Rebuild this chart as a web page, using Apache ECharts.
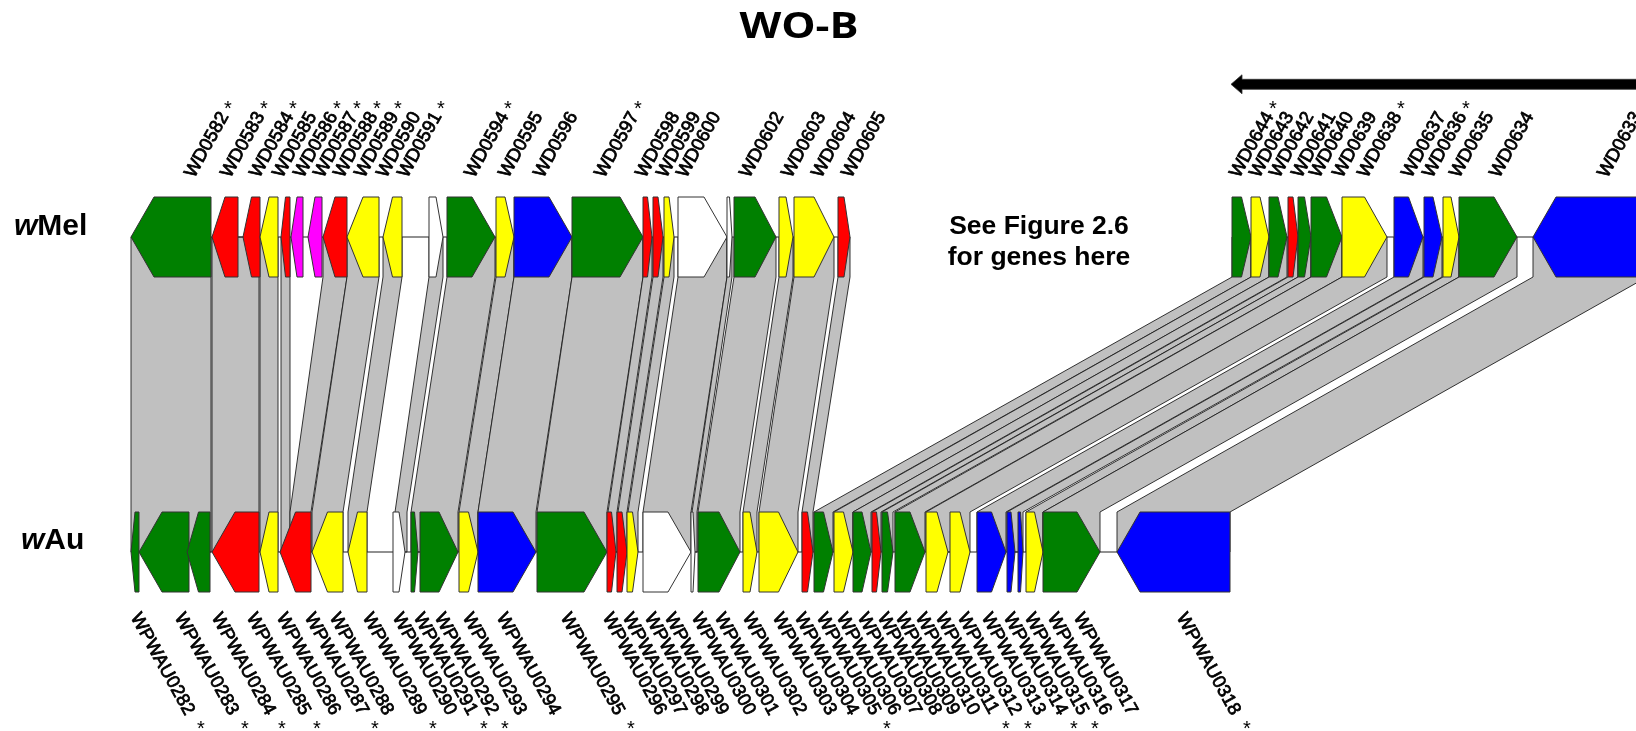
<!DOCTYPE html>
<html><head><meta charset="utf-8">
<script src="https://cdn.jsdelivr.net/npm/echarts@6/dist/echarts.min.js"></script>
<style>html,body{margin:0;padding:0;background:#fff}#c{width:1636px;height:731px}</style>
</head><body><div id="c"></div>
<script>
// ---------- DATA (diagram coordinates along the genome axis) ----------
const geneColors = {G:'#008000', R:'#ff0000', Y:'#ffff00', B:'#0000ff', M:'#ff00ff', W:'#ffffff'};

// [start, end, strand, colour]
const melGenes = [
  [131,211,-1,'G'],[212,238,-1,'R'],[243,260,-1,'R'],[260,278,-1,'Y'],[281,290,-1,'R'],
  [291,303,-1,'M'],[308,322,-1,'M'],[323,347,-1,'R'],[347,379,-1,'Y'],[383,402,-1,'Y'],
  [429,443,1,'W'],[447,495,1,'G'],[496,514,1,'Y'],[514,572,1,'B'],[572,643,1,'G'],
  [643,652,1,'R'],[653,663,1,'R'],[664,674,1,'Y'],[678,727,1,'W'],[727,732,1,'W'],
  [734,776,1,'G'],[779,793,1,'Y'],[794,834,1,'Y'],[838,850,1,'R'],
  [1232,1251,1,'G'],[1251,1269,1,'Y'],[1269,1287,1,'G'],[1288,1298,1,'R'],[1298,1311,1,'G'],
  [1311,1342,1,'G'],[1342,1387,1,'Y'],[1394,1423,1,'B'],[1424,1442,1,'B'],[1443,1459,1,'Y'],
  [1459,1517,1,'G'],[1533,1690,-1,'B']
];
const auGenes = [
  [131,139,-1,'G'],[139,189,-1,'G'],[187,210,-1,'G'],[212,259,-1,'R'],[260,278,-1,'Y'],
  [280,311,-1,'R'],[312,343,-1,'Y'],[348,367,-1,'Y'],[393,405,1,'W'],[411,418,1,'G'],
  [420,458,1,'G'],[459,478,1,'Y'],[478,536,1,'B'],[537,607,1,'G'],[607,616,1,'R'],
  [617,627,1,'R'],[627,638,1,'Y'],[643,691,1,'W'],[691,695,1,'W'],[698,740,1,'G'],
  [743,757,1,'Y'],[759,798,1,'Y'],[802,813,1,'R'],[814,833,1,'G'],[834,853,1,'Y'],
  [853,871,1,'G'],[872,881,1,'R'],[882,893,1,'G'],[895,925,1,'G'],[926,948,1,'Y'],
  [950,970,1,'Y'],[977,1006,1,'B'],[1007,1015,1,'B'],[1018,1023,1,'B'],[1026,1043,1,'Y'],
  [1043,1100,1,'G'],[1117,1230,-1,'B']
];
// homology links: [wMel start, wMel end, wAu start, wAu end]
const links = [
  [131,211,131,211],[212,259,212,259],[260,278,260,278],[281,290,281,290],[323,347,290,311],
  [347,379,312,343],[383,402,348,367],[429,443,395,407],[447,495,411,458],[496,514,459,478],
  [514,572,478,536],[572,643,537,607],[643,652,608,617],[653,663,618,627],[664,674,628,638],
  [678,727,643,691],[727,732,692,697],[734,776,698,740],[779,793,743,757],[794,834,759,798],
  [838,850,802,813],
  [1232,1251,814,833],[1251,1269,834,853],[1269,1287,853,871],[1288,1298,872,881],
  [1298,1311,882,893],[1311,1342,895,925],[1342,1387,926,970],[1394,1423,977,1006],
  [1424,1442,1007,1023],[1443,1459,1026,1043],[1459,1517,1043,1100],[1533,1647,1117,1230]
];
// [label, position, starred]
const melLabels = [
  ['WD0582',185,1],['WD0583',221,1],['WD0584',250,1],['WD0585',273,0],['WD0586',294,1],
  ['WD0587',314,1],['WD0588',334,1],['WD0589',355,1],['WD0590',377,0],['WD0591',398,1],
  ['WD0594',465,1],['WD0595',499,0],['WD0596',534,0],['WD0597',595,1],['WD0598',636,0],
  ['WD0599',657,0],['WD0600',677,0],['WD0602',740,0],['WD0603',782,0],['WD0604',812,0],
  ['WD0605',842,0],
  ['WD0644',1230,1],['WD0643',1250,0],['WD0642',1270,0],['WD0641',1292,0],['WD0640',1310,0],
  ['WD0639',1333,0],['WD0638',1358,1],['WD0637',1402,0],['WD0636',1423,1],['WD0635',1450,0],
  ['WD0634',1490,0],['WD0633',1598,0]
];
const auLabels = [
  ['WPWAU0282',131,1],['WPWAU0283',175,1],['WPWAU0284',212,1],['WPWAU0285',247,1],
  ['WPWAU0286',277,0],['WPWAU0287',305,1],['WPWAU0288',330,0],['WPWAU0289',363,1],
  ['WPWAU0290',393,0],['WPWAU0291',414,1],['WPWAU0292',435,1],['WPWAU0293',463,0],
  ['WPWAU0294',497,0],['WPWAU0295',561,1],['WPWAU0296',603,0],['WPWAU0297',623,0],
  ['WPWAU0298',645,0],['WPWAU0299',665,0],['WPWAU0300',692,0],['WPWAU0301',715,0],
  ['WPWAU0302',743,0],['WPWAU0303',773,0],['WPWAU0304',795,0],['WPWAU0305',817,1],
  ['WPWAU0306',837,0],['WPWAU0307',858,0],['WPWAU0308',878,0],['WPWAU0309',896,0],
  ['WPWAU0310',916,0],['WPWAU0311',936,1],['WPWAU0312',958,1],['WPWAU0313',982,0],
  ['WPWAU0314',1004,1],['WPWAU0315',1025,1],['WPWAU0316',1048,0],['WPWAU0317',1074,0],
  ['WPWAU0318',1177,1]
];
const melBackbone = [[131,850],[1232,1700]];
const auBackbone = [[131,1230]];
const directionArrow = [[1231,1700]];

// ---------- LAYOUT ----------
const MEL_Y = 237, AU_Y = 552, HALF = 40, HEAD = 23;
const LABEL_FONT = '18.5px "Liberation Sans", Arial, sans-serif';
const STAR_FONT = '20px "Liberation Sans", Arial, sans-serif';
const ROT = 61 * Math.PI / 180;
const TOP_DX = 13, BOT_DX = 12;

const chart = echarts.init(document.getElementById('c'));

function geneSeries(genes, cy){
  return {
    type:'custom', coordinateSystem:'cartesian2d', silent:true,
    data: genes.map(g => [g[0], g[1]]),
    renderItem: function(params, api){
      const g = genes[params.dataIndex];
      const s = g[0], e = g[1];
      const h = Math.min(HEAD, (e - s) / 2);
      let p;
      if (g[2] > 0) p = [[s,cy-HALF],[e-h,cy-HALF],[e,cy],[e-h,cy+HALF],[s,cy+HALF]];
      else p = [[e,cy-HALF],[s+h,cy-HALF],[s,cy],[s+h,cy+HALF],[e,cy+HALF]];
      return {type:'polygon', shape:{points:p.map(q => api.coord(q))},
        style:{fill:geneColors[g[3]], stroke:'#333333', lineWidth:1}};
    }
  };
}
function backboneSeries(segs, cy){
  return {
    type:'custom', coordinateSystem:'cartesian2d', silent:true,
    data: segs.map(s => [s[0], s[1]]),
    renderItem: function(params, api){
      const s = segs[params.dataIndex];
      const a = api.coord([s[0], cy]), b = api.coord([s[1], cy]);
      return {type:'line', shape:{x1:a[0], y1:a[1], x2:b[0], y2:b[1]},
        style:{stroke:'#222', lineWidth:1.2}};
    }
  };
}
function labelSeries(labels, top){
  return {
    type:'custom', coordinateSystem:'cartesian2d', silent:true,
    data: labels.map(l => [l[1], top ? MEL_Y : AU_Y]),
    renderItem: function(params, api){
      const l = labels[params.dataIndex];
      const children = [];
      const ts = {font:LABEL_FONT, fill:'#000', stroke:'#000', lineWidth:0.75};
      if (top) {
        const p = api.coord([l[1] + TOP_DX, 181]);
        children.push({type:'text', x:p[0], y:p[1], rotation:ROT,
          style:Object.assign({text:l[0], align:'left', verticalAlign:'bottom'}, ts)});
        if (l[2]) {
          const q = api.coord([l[1] + 43, 109]);
          children.push({type:'text', x:q[0], y:q[1],
            style:{text:'*', font:STAR_FONT, fill:'#000', align:'center', verticalAlign:'middle'}});
        }
      } else {
        const p = api.coord([l[1] + BOT_DX, 610]);
        children.push({type:'text', x:p[0], y:p[1], rotation:-ROT,
          style:Object.assign({text:l[0], align:'left', verticalAlign:'top'}, ts)});
        if (l[2]) {
          const q = api.coord([l[1] + 70, 729]);
          children.push({type:'text', x:q[0], y:q[1],
            style:{text:'*', font:STAR_FONT, fill:'#000', align:'center', verticalAlign:'middle'}});
        }
      }
      return {type:'group', children:children};
    }
  };
}

const option = {
  animation:false,
  backgroundColor:'#ffffff',
  grid:{left:0, right:0, top:0, bottom:0},
  xAxis:{type:'value', min:0, max:1636, show:false},
  yAxis:{type:'value', min:0, max:731, inverse:true, show:false},
  graphic:[
    {type:'text', x:799, y:28, scaleX:1.2, style:{text:'WO-B', font:'bold 36px "Open Sans", sans-serif', fill:'#000', align:'center', verticalAlign:'middle'}},
    {type:'text', x:14, y:227, style:{
      text:'{i|w}{n|Mel}', verticalAlign:'middle', align:'left',
      rich:{i:{font:'italic bold 30px "Liberation Sans", Arial', fill:'#000'}, n:{font:'bold 30px "Liberation Sans", Arial', fill:'#000'}}}},
    {type:'text', x:21, y:541, style:{
      text:'{i|w}{n|Au}', verticalAlign:'middle', align:'left',
      rich:{i:{font:'italic bold 30px "Liberation Sans", Arial', fill:'#000'}, n:{font:'bold 30px "Liberation Sans", Arial', fill:'#000'}}}},
    {type:'text', x:1039, y:227, style:{text:'See Figure 2.6', font:'bold 26.5px "Liberation Sans", Arial', fill:'#000', align:'center', verticalAlign:'middle'}},
    {type:'text', x:1039, y:258, style:{text:'for genes here', font:'bold 26.5px "Liberation Sans", Arial', fill:'#000', align:'center', verticalAlign:'middle'}}
  ],
  series:[
    { // homology links
      type:'custom', coordinateSystem:'cartesian2d', silent:true,
      data: links.map(l => [l[0], l[2]]),
      renderItem: function(params, api){
        const l = links[params.dataIndex];
        const p = [[l[0],MEL_Y],[l[1],MEL_Y],[l[1],MEL_Y+HALF],[l[3],AU_Y-HALF],
                   [l[3],AU_Y],[l[2],AU_Y],[l[2],AU_Y-HALF],[l[0],MEL_Y+HALF]];
        return {type:'polygon', shape:{points:p.map(q => api.coord(q))},
          style:{fill:'#c0c0c0', stroke:'#1e1e1e', lineWidth:0.9}};
      }
    },
    backboneSeries(melBackbone, MEL_Y),
    backboneSeries(auBackbone, AU_Y),
    geneSeries(melGenes, MEL_Y),
    geneSeries(auGenes, AU_Y),
    labelSeries(melLabels, true),
    labelSeries(auLabels, false),
    { // orientation arrow
      type:'custom', coordinateSystem:'cartesian2d', silent:true,
      data: directionArrow.map(a => [a[0], 84]),
      renderItem: function(params, api){
        const a = directionArrow[params.dataIndex];
        const y = 84.3;
        const p = [[a[0],y],[a[0]+11,y-9.5],[a[0]+11,y-5],[a[1],y-5],[a[1],y+5],[a[0]+11,y+5],[a[0]+11,y+9.5]];
        return {type:'polygon', shape:{points:p.map(q => api.coord(q))},
          style:{fill:'#000', stroke:'#333', lineWidth:0.8}};
      }
    }
  ]
};
chart.setOption(option);
</script>
</body></html>
